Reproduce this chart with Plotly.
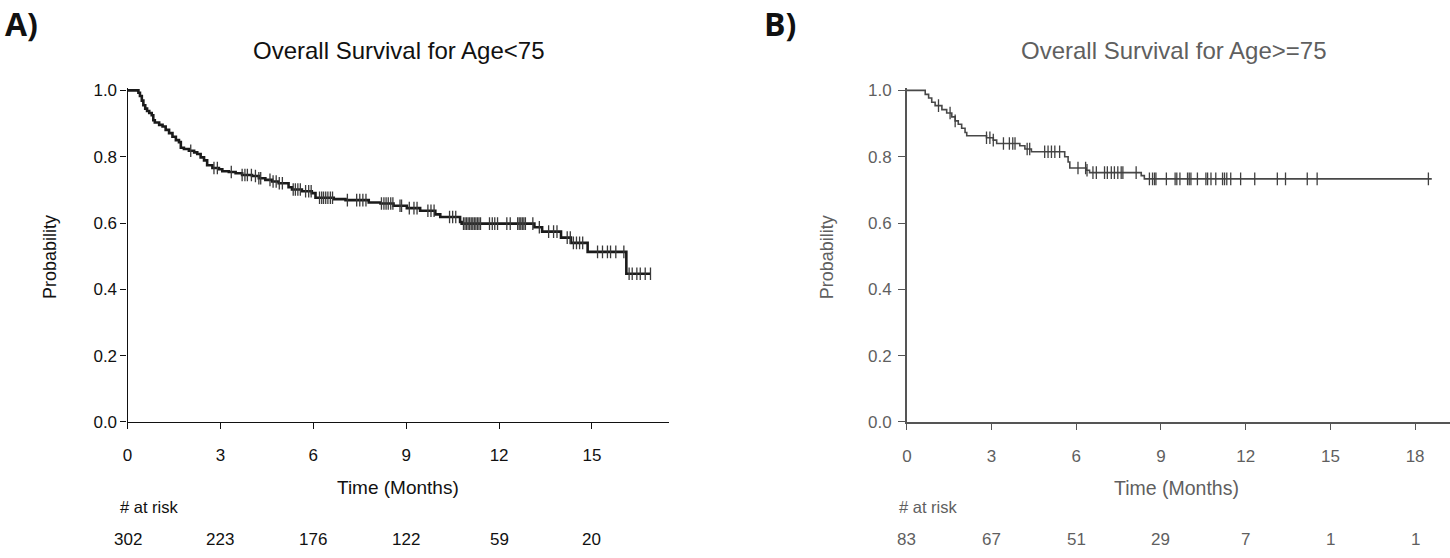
import numpy as np
import plotly.graph_objects as go

W, H = 1450, 558

# ---------------- Panel A: Age < 75 ----------------
a_time = [0, 0.35, 0.40, 0.46, 0.51, 0.57, 0.63, 0.70, 0.78, 0.83, 0.88, 1.02, 1.13, 1.23,
          1.34, 1.45, 1.56, 1.66, 1.72, 1.82, 1.98, 2.15, 2.25, 2.36, 2.47, 2.57, 2.74, 2.95,
          3.06, 3.27, 3.49, 3.70, 4.02, 4.24, 4.45, 4.67, 4.88, 5.20, 5.31, 5.63, 5.95, 6.07,
          6.66, 7.04, 7.79, 8.17, 8.59, 9.02, 9.45, 9.94, 10.10, 10.74, 10.79, 13.14, 13.39,
          14.00, 14.32, 14.86, 16.11, 16.89]
a_surv = [1.0, 0.993, 0.983, 0.969, 0.955, 0.945, 0.938, 0.932, 0.925, 0.910, 0.903, 0.896,
          0.891, 0.881, 0.871, 0.860, 0.850, 0.844, 0.827, 0.823, 0.818, 0.813, 0.808, 0.798,
          0.789, 0.774, 0.766, 0.762, 0.756, 0.754, 0.750, 0.745, 0.742, 0.735, 0.730, 0.725,
          0.720, 0.708, 0.701, 0.696, 0.690, 0.676, 0.672, 0.669, 0.662, 0.659, 0.652, 0.645,
          0.637, 0.626, 0.618, 0.603, 0.598, 0.587, 0.574, 0.556, 0.540, 0.513, 0.447, 0.447]
a_censor = [2.04, 2.79, 2.90, 3.35, 3.70, 3.79, 3.87, 4.00, 4.13, 4.24, 4.30, 4.60, 4.70, 4.80,
            4.90, 5.00, 5.35, 5.42, 5.50, 5.58, 5.75, 5.85, 5.93, 6.20, 6.27, 6.33, 6.40, 6.47,
            6.55, 6.62, 7.10, 7.40, 7.50, 7.60, 7.70, 8.20, 8.28, 8.35, 8.42, 8.50, 8.57, 8.80,
            8.85, 9.10, 9.25, 9.35, 9.70, 9.80, 9.90, 10.40, 10.50, 10.60, 10.85, 10.90, 10.95,
            11.00, 11.05, 11.10, 11.15, 11.20, 11.25, 11.30, 11.35, 11.40, 11.69, 11.78, 11.86,
            11.95, 12.25, 12.36, 12.60, 12.65, 12.70, 12.75, 12.80, 12.85, 13.09, 13.30, 13.60,
            13.76, 13.87, 14.20, 14.30, 14.40, 14.50, 14.60, 14.70, 15.18, 15.34, 15.50, 15.60,
            15.77, 16.03, 16.20, 16.30, 16.45, 16.56, 16.72, 16.89]
a_ticks = [0, 3, 6, 9, 12, 15]
a_risk = [302, 223, 176, 122, 59, 20]

# ---------------- Panel B: Age >= 75 ----------------
b_time = [0, 0.65, 0.77, 0.88, 1.00, 1.24, 1.41, 1.59, 1.71, 1.82, 1.94, 2.06, 2.12, 2.82,
          3.06, 3.18, 4.00, 4.18, 4.41, 5.59, 5.71, 5.77, 6.35, 6.47, 8.30, 8.41, 18.59]
b_surv = [1.0, 0.988, 0.977, 0.964, 0.954, 0.942, 0.932, 0.920, 0.908, 0.898, 0.886, 0.873,
          0.863, 0.857, 0.850, 0.840, 0.833, 0.823, 0.815, 0.800, 0.784, 0.766, 0.759, 0.752,
          0.743, 0.733, 0.733]
b_censor = [1.12, 1.53, 1.71, 2.82, 2.94, 3.06, 3.42, 3.63, 3.75, 3.83, 4.26, 4.35, 4.88, 5.00,
            5.12, 5.24, 5.41, 6.06, 6.33, 6.38, 6.59, 6.71, 7.00, 7.10, 7.24, 7.35, 7.47, 7.59,
            7.65, 8.12, 8.59, 8.70, 8.77, 8.82, 9.19, 9.50, 9.56, 9.67, 9.94, 10.00, 10.06,
            10.29, 10.59, 10.65, 10.77, 10.94, 11.18, 11.25, 11.33, 11.47, 11.82, 12.32, 13.12,
            13.41, 14.18, 14.53, 18.47]
b_ticks = [0, 3, 6, 9, 12, 15, 18]
b_risk = [83, 67, 51, 29, 7, 1, 1]

y_ticks = [0.0, 0.2, 0.4, 0.6, 0.8, 1.0]


def censor_y(times, surv, c):
    idx = np.searchsorted(np.asarray(times), np.asarray(c), side="right") - 1
    return np.asarray(surv)[idx]


FONT = "Liberation Sans, Arial, sans-serif"
A_COL = "#111111"
B_COL = "#5f5f5f"

# pixel geometry
y0_px, y1_px = 428, 86          # p=0 and p=1
YTOP = 1.006
top_px = y0_px - (y0_px - y1_px) * YTOP
ydom = [(H - y0_px) / H, (H - top_px) / H]

ax_l, ax_r = 123, 666
bx_l, bx_r = 905, 1450
a_range = [0, (ax_r - ax_l) / ((589 - 123) / 15)]
b_range = [0, (bx_r - bx_l) / ((1415 - 905) / 18)]

fig = go.Figure()

fig.add_trace(go.Scatter(x=a_time, y=a_surv, mode="lines", line=dict(color="#1a1a1a", width=2.6, shape="hv"),
                         xaxis="x", yaxis="y", hoverinfo="skip", showlegend=False))
fig.add_trace(go.Scatter(x=a_censor, y=censor_y(a_time, a_surv, a_censor), mode="markers",
                         marker=dict(symbol="line-ns", size=9, line=dict(color="#3a3a3a", width=1.3)),
                         xaxis="x", yaxis="y", hoverinfo="skip", showlegend=False))

fig.add_trace(go.Scatter(x=b_time, y=b_surv, mode="lines", line=dict(color="#484848", width=1.6, shape="hv"),
                         xaxis="x2", yaxis="y2", hoverinfo="skip", showlegend=False))
fig.add_trace(go.Scatter(x=b_censor, y=censor_y(b_time, b_surv, b_censor), mode="markers",
                         marker=dict(symbol="line-ns", size=9, line=dict(color="#404040", width=1.3)),
                         xaxis="x2", yaxis="y2", hoverinfo="skip", showlegend=False))

common_x = dict(showline=True, ticks="outside", ticklen=6, showgrid=False, zeroline=False,
                tickfont=dict(family=FONT, size=17), ticklabelstandoff=12, fixedrange=True)
common_y = dict(showline=True, ticks="outside", ticklen=6, showgrid=False, zeroline=False,
                tickvals=y_ticks, tickformat=".1f", tickfont=dict(family=FONT, size=17),
                range=[0, YTOP], domain=ydom, fixedrange=True)

fig.update_layout(
    width=W, height=H, margin=dict(l=0, r=0, t=0, b=0),
    paper_bgcolor="white", plot_bgcolor="white",
    xaxis=dict(common_x, domain=[ax_l / W, ax_r / W], range=a_range, tickvals=a_ticks,
               linecolor="#111111", tickcolor="#111111", linewidth=1.2,
               tickfont=dict(family=FONT, size=17, color=A_COL), anchor="y"),
    yaxis=dict(common_y, linecolor="#111111", tickcolor="#111111", linewidth=1.2,
               tickfont=dict(family=FONT, size=17, color=A_COL), anchor="x"),
    xaxis2=dict(common_x, domain=[bx_l / W, bx_r / W], range=b_range, tickvals=b_ticks,
                linecolor="#555555", tickcolor="#555555", linewidth=1.5,
                tickfont=dict(family=FONT, size=17, color=B_COL), anchor="y2"),
    yaxis2=dict(common_y, linecolor="#555555", tickcolor="#555555", linewidth=1.5, ticklen=7,
                tickfont=dict(family=FONT, size=17, color=B_COL), anchor="x2", ticklabelstandoff=3),
)

ann = []


def txt(x_px, y_px, text, size, color, xanchor="center", angle=0, family=FONT):
    ann.append(dict(x=x_px / W, y=1 - y_px / H, xref="paper", yref="paper", text=text,
                    showarrow=False, xanchor=xanchor, yanchor="middle", textangle=angle,
                    font=dict(family=family, size=size, color=color)))


# panel labels
txt(-2, 17, "<b>A)</b>", 32, "#111111", xanchor="left", family="Open Sans, Liberation Sans, sans-serif")
txt(760, 17, "<b>B)</b>", 32, "#111111", xanchor="left", family="Open Sans, Liberation Sans, sans-serif")

# titles
txt(395, 45, "Overall Survival for Age&lt;75", 24, A_COL)
txt(1173, 45, "Overall Survival for Age&gt;=75", 24, B_COL)

# y titles
txt(45, 258, "Probability", 18, A_COL, angle=-90)
txt(825, 258, "Probability", 18, B_COL, angle=-90)

# x titles
txt(394, 496, "Time (Months)", 19, A_COL)
txt(1176, 496, "Time (Months)", 19.5, B_COL)

# at-risk table
txt(113, 516, "# at risk", 16.5, A_COL, xanchor="left")
txt(895, 516, "# at risk", 16.5, B_COL, xanchor="left")
for t, n in zip(a_ticks, a_risk):
    ann.append(dict(x=t, y=1 - 549 / H, xref="x", yref="paper", text=str(n), showarrow=False,
                    xanchor="center", yanchor="middle", font=dict(family=FONT, size=17, color=A_COL)))
for t, n in zip(b_ticks, b_risk):
    ann.append(dict(x=t, y=1 - 549 / H, xref="x2", yref="paper", text=str(n), showarrow=False,
                    xanchor="center", yanchor="middle", font=dict(family=FONT, size=17, color=B_COL)))

fig.update_layout(annotations=ann)
fig.write_html("out.html", config={"displayModeBar": False},
               post_script="document.body.style.margin='0px';document.body.style.overflow='hidden';")
